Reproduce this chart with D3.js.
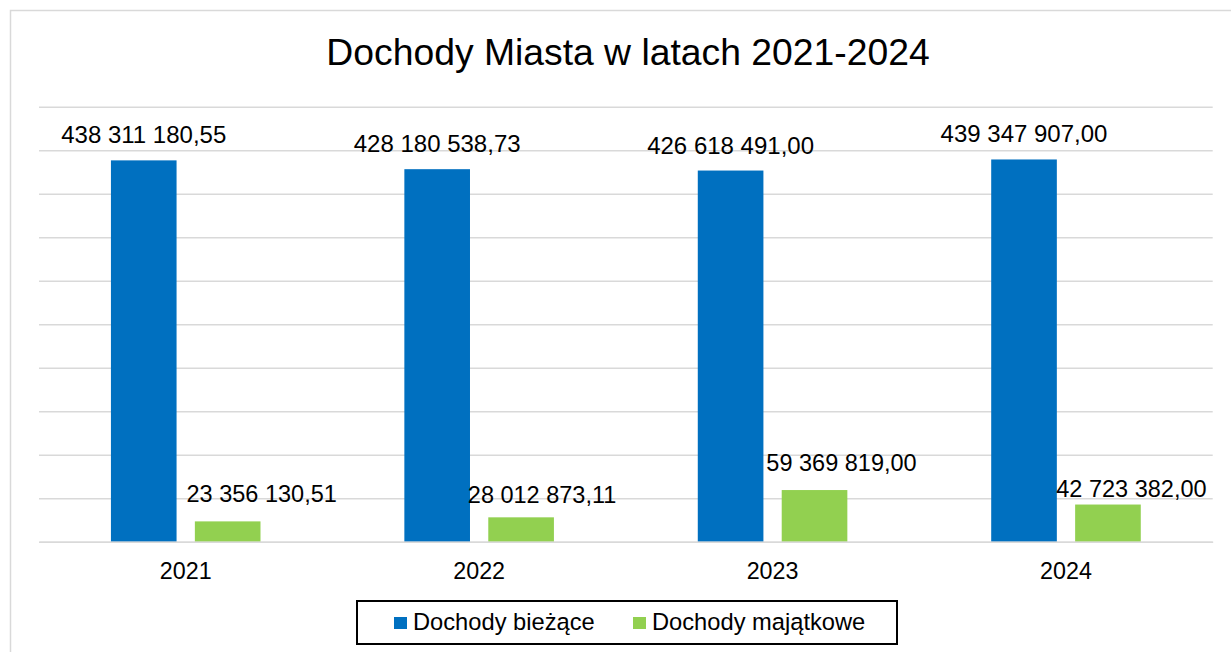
<!DOCTYPE html>
<html>
<head>
<meta charset="utf-8">
<script src="https://cdn.jsdelivr.net/npm/d3@7"></script>
<style>
  html, body { margin: 0; padding: 0; background: #fff; }
  svg { display: block; }
  text { font-family: "Liberation Sans", Arial, sans-serif; fill: #000; }
</style>
</head>
<body>
<svg id="chart" width="1231" height="652"></svg>
<script>
// ---- data ----
const title = "Dochody Miasta w latach 2021-2024";
const years = ["2021", "2022", "2023", "2024"];
const seriesNames = ["Dochody bieżące", "Dochody majątkowe"];
const biezace = [438311180.55, 428180538.73, 426618491.00, 439347907.00];
const majatkowe = [23356130.51, 28012873.11, 59369819.00, 42723382.00];
const yTicks = [0, 50e6, 100e6, 150e6, 200e6, 250e6, 300e6, 350e6, 400e6, 450e6, 500e6];

// ---- styles / layout ----
const colors = ["#0070C0", "#92D050"];
const gridColor = "#d9d9d9";
// manual nudges of the green labels (as in the reference)
const greenNudge = [[34, -19], [21, -14], [27, -19], [23.5, -8]];

const svg = d3.select("#chart");
const plot = { left: 39, right: 1212.7, top: 106.7, bottom: 541.7 };

// outer chart border
svg.append("rect")
  .attr("x", 10.5).attr("y", 10.5)
  .attr("width", 1240).attr("height", 660)
  .attr("fill", "#fff").attr("stroke", gridColor).attr("stroke-width", 1.5);

const y = d3.scaleLinear().domain([0, 500e6]).range([plot.bottom, plot.top]);
const x0 = d3.scaleBand().domain(years).range([plot.left, plot.right]).paddingInner(0).paddingOuter(0);
const x1 = d3.scaleBand().domain(seriesNames).range([0, x0.bandwidth()])
  .paddingInner(0.218).paddingOuter(0.857);

// gridlines via axis
const yAxis = d3.axisLeft(y).tickValues(yTicks).tickSize(-(plot.right - plot.left)).tickFormat("");
const gy = svg.append("g").attr("transform", `translate(${plot.left},0)`).call(yAxis);
gy.select(".domain").remove();
gy.selectAll(".tick line").attr("stroke", gridColor).attr("stroke-width", 1.5);

// title
svg.append("text")
  .attr("x", 628).attr("y", 65)
  .attr("text-anchor", "middle")
  .style("font-size", "37.3px")
  .text(title);

const fmt = d3.formatLocale({ decimal: ",", thousands: " ", grouping: [3], currency: ["", ""] }).format(",.2f");

const rows = years.map((yr, i) => ({ year: yr, vals: [biezace[i], majatkowe[i]] }));

const groups = svg.append("g").selectAll("g.cat").data(rows).join("g")
  .attr("class", "cat")
  .attr("transform", d => `translate(${x0(d.year)},0)`);

groups.selectAll("rect").data(d => d.vals.map((v, k) => ({ v, k, s: seriesNames[k] }))).join("rect")
  .attr("x", d => x1(d.s))
  .attr("width", x1.bandwidth())
  .attr("y", d => y(d.v))
  .attr("height", d => y(0) - y(d.v))
  .attr("fill", d => colors[d.k]);

// value labels
groups.each(function(d, i) {
  const g = d3.select(this);
  // blue
  g.append("text")
    .attr("x", x1(seriesNames[0]) + x1.bandwidth() / 2)
    .attr("y", y(d.vals[0]) - 17)
    .attr("text-anchor", "middle")
    .style("font-size", "24px")
    .text(fmt(d.vals[0]));
  // green
  g.append("text")
    .attr("x", x1(seriesNames[1]) + x1.bandwidth() / 2 + greenNudge[i][0])
    .attr("y", y(d.vals[1]) + greenNudge[i][1])
    .attr("text-anchor", "middle")
    .style("font-size", "23.5px")
    .text(fmt(d.vals[1]));
});

// x axis
const xAxis = d3.axisBottom(x0).tickSize(0).tickPadding(0);
const gx = svg.append("g").attr("transform", `translate(0,${plot.bottom})`).call(xAxis);
gx.select(".domain").attr("stroke", gridColor).attr("stroke-width", 1.5);
gx.selectAll(".tick text")
  .attr("y", 37).attr("dy", null)
  .style("font-size", "23.3px")
  .style("font-family", "'Liberation Sans', Arial, sans-serif")
  .attr("fill", "#000");

// legend
const lg = svg.append("g");
lg.append("rect")
  .attr("x", 357).attr("y", 601)
  .attr("width", 540).attr("height", 43)
  .attr("fill", "#fff").attr("stroke", "#000").attr("stroke-width", 2);
const legendX = [394, 633];
seriesNames.forEach((name, k) => {
  lg.append("rect")
    .attr("x", legendX[k]).attr("y", 617)
    .attr("width", 13).attr("height", 12)
    .attr("fill", colors[k]);
  lg.append("text")
    .attr("x", legendX[k] + 19).attr("y", 630)
    .style("font-size", "23.7px")
    .text(name);
});
</script>
</body>
</html>
